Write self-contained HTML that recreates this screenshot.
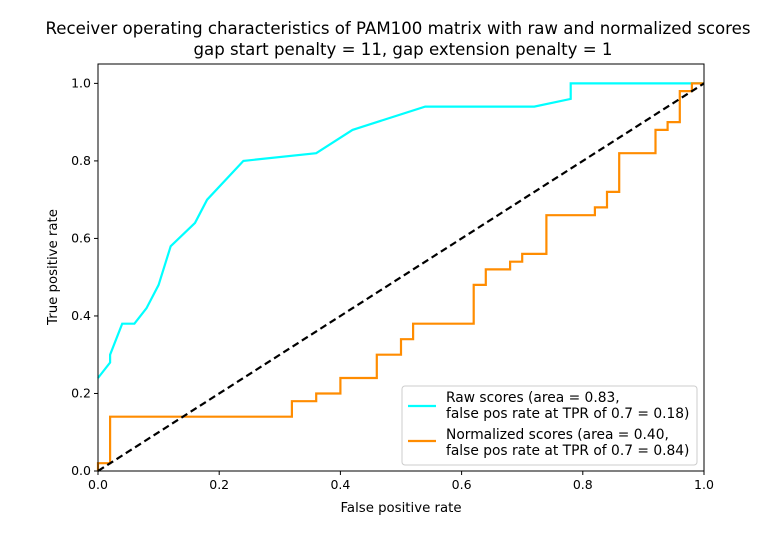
<!DOCTYPE html>
<html><head><meta charset="utf-8"><style>
body{margin:0;background:#fff;}
svg text{font-family:"DejaVu Sans","Liberation Sans",sans-serif;fill:#000;}
</style></head><body>
<svg id="chart" width="782" height="530" xmlns="http://www.w3.org/2000/svg">
<text x="398" y="34" text-anchor="middle" font-size="16.6">Receiver operating characteristics of PAM100 matrix with raw and normalized scores</text>
<text x="403" y="55" text-anchor="middle" font-size="16.6">gap start penalty = 11, gap extension penalty = 1</text>
<g id="plot"></g>
<text x="401" y="512" text-anchor="middle" font-size="13.3">False positive rate</text>
<text transform="translate(57,267) rotate(-90)" text-anchor="middle" font-size="13.3">True positive rate</text>
<g>
<rect x="402" y="386" width="295" height="79" rx="3" fill="#fff" stroke="#ccc"/>
<line x1="408" y1="406" x2="436" y2="406" stroke="#00ffff" stroke-width="2.2"/>
<text x="446" y="402" font-size="13.8">Raw scores (area = 0.83,</text>
<text x="446" y="418" font-size="13.8">false pos rate at TPR of 0.7 = 0.18)</text>
<line x1="408" y1="441" x2="436" y2="441" stroke="#ff8c00" stroke-width="2.2"/>
<text x="446" y="439" font-size="13.8">Normalized scores (area = 0.40,</text>
<text x="446" y="455" font-size="13.8">false pos rate at TPR of 0.7 = 0.84)</text>
</g>
</svg>
<script>
const xTicks=[0,0.2,0.4,0.6,0.8,1.0];
const yTicks=[0,0.2,0.4,0.6,0.8,1.0];
const rawFpr=[0,0.02,0.02,0.04,0.06,0.08,0.10,0.12,0.16,0.18,0.24,0.36,0.42,0.54,0.72,0.78,0.78,1.0];
const rawTpr=[0.24,0.28,0.30,0.38,0.38,0.42,0.48,0.58,0.64,0.70,0.80,0.82,0.88,0.94,0.94,0.96,1.0,1.0];
const normFpr=[0,0,0.02,0.02,0.32,0.32,0.36,0.36,0.40,0.40,0.46,0.46,0.50,0.50,0.52,0.52,0.62,0.62,0.64,0.64,0.68,0.68,0.70,0.70,0.74,0.74,0.82,0.82,0.84,0.84,0.86,0.86,0.92,0.92,0.94,0.94,0.96,0.96,0.98,0.98,1.0];
const normTpr=[0,0.02,0.02,0.14,0.14,0.18,0.18,0.20,0.20,0.24,0.24,0.30,0.30,0.34,0.34,0.38,0.38,0.48,0.48,0.52,0.52,0.54,0.54,0.56,0.56,0.66,0.66,0.68,0.68,0.72,0.72,0.82,0.82,0.88,0.88,0.90,0.90,0.98,0.98,1.0,1.0];
const chanceX=[0,1];
const chanceY=[0,1];
const NS="http://www.w3.org/2000/svg";
const X0=98,X1=704,Y0=471,YTOP=64;
const sx=v=>X0+v*(X1-X0);
const sy=v=>Y0-v*(Y0-YTOP)/1.05;
const g=document.getElementById('plot');
function mk(t,a){const e=document.createElementNS(NS,t);for(const k in a)e.setAttribute(k,a[k]);g.appendChild(e);return e;}
function pts(xs,ys){return xs.map((x,i)=>sx(x).toFixed(1)+','+sy(ys[i]).toFixed(1)).join(' ');}
let r=mk('polyline',{points:pts(rawFpr,rawTpr),fill:'none',stroke:'#00ffff','stroke-width':2.2});


let n=mk('polyline',{points:pts(normFpr,normTpr),fill:'none',stroke:'#ff8c00','stroke-width':2.2});


let c=mk('polyline',{points:pts(chanceX,chanceY),fill:'none',stroke:'#000','stroke-width':2.2,'stroke-dasharray':'7,4'});


let f=mk('rect',{x:X0,y:YTOP,width:X1-X0,height:Y0-YTOP,fill:'none',stroke:'#000','stroke-width':1});


xTicks.forEach(v=>{
  let l=mk('line',{x1:sx(v),x2:sx(v),y1:Y0,y2:Y0+4,stroke:'#000'});
  
  
  let t=mk('text',{x:sx(v),y:Y0+18,'text-anchor':'middle','font-size':12.5});
  t.textContent=v.toFixed(1);
  
  
});
yTicks.forEach(v=>{
  let l=mk('line',{x1:X0-4,x2:X0,y1:sy(v),y2:sy(v),stroke:'#000'});
  
  
  let t=mk('text',{x:X0-7,y:sy(v)+4,'text-anchor':'end','font-size':12.5});
  t.textContent=v.toFixed(1);
  
  
});
</script>
</body></html>
